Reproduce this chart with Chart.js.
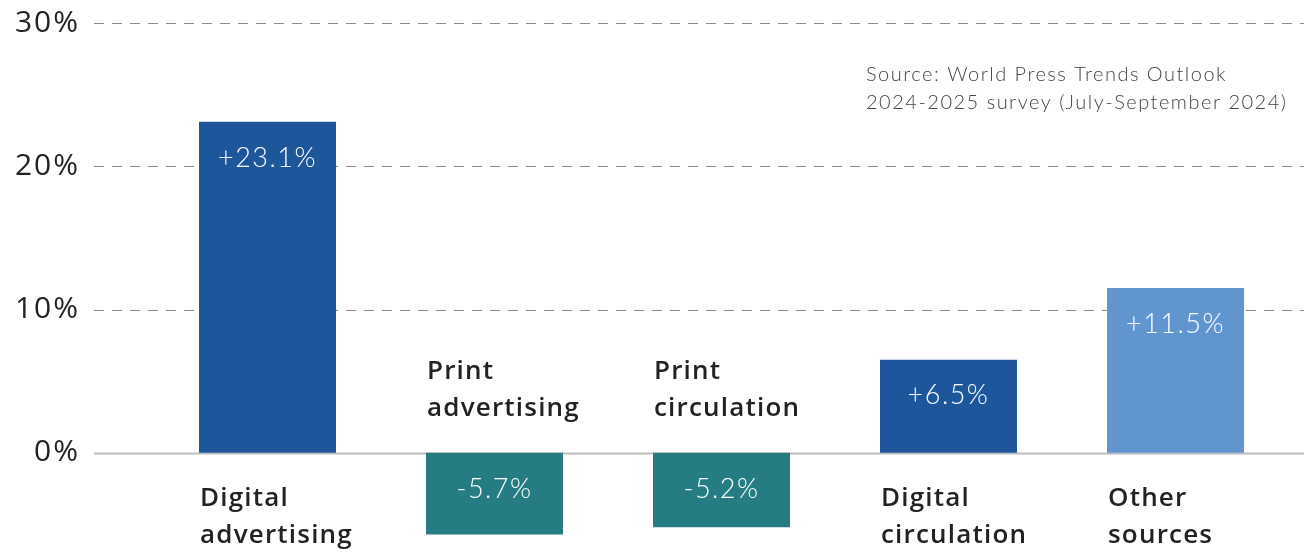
<!DOCTYPE html>
<html>
<head>
<meta charset="utf-8">
<script src="https://cdn.jsdelivr.net/npm/chart.js@4/dist/chart.umd.min.js"></script>
<style>
  html, body { margin: 0; padding: 0; background: #fff; }
  #wrap { width: 1304px; height: 552px; position: relative; }
</style>
</head>
<body>
<div id="wrap"><canvas id="revenueChart" width="1304" height="552"></canvas></div>
<script>
// Revenue growth by source
const categories = [
  ['Digital', 'advertising'],
  ['Print', 'advertising'],
  ['Print', 'circulation'],
  ['Digital', 'circulation'],
  ['Other', 'sources']
];
const growth = [23.1, -5.7, -5.2, 6.5, 11.5];
const valueLabels = ['+23.1%', '-5.7%', '-5.2%', '+6.5%', '+11.5%'];
const barColors = ['#1e569b', '#257d83', '#257d83', '#1e569b', '#6195cf'];
const tickValues = [0, 10, 20, 30];
const sourceLines = [
  'Source: World Press Trends Outlook',
  '2024-2025 survey (July-September 2024)'
];

const BOLD_FONT = '"Open Sans", Lato, sans-serif';
const LIGHT_FONT = 'Lato, "Open Sans", sans-serif';

// Wider tracking for the axis labels
const trackingPlugin = {
  id: 'tracking',
  beforeDraw(chart) { chart.ctx.letterSpacing = '2px'; },
  beforeDatasetsDraw(chart) { chart.ctx.letterSpacing = '0px'; }
};

// Gridlines span wider than the plot area, so draw them by hand
const gridPlugin = {
  id: 'wideGrid',
  beforeDatasetsDraw(chart) {
    const { ctx } = chart;
    const y = chart.scales.y;
    ctx.save();
    tickValues.forEach(v => {
      const py = Math.round(y.getPixelForValue(v)) + 0.5;
      ctx.beginPath();
      if (v === 0) {
        ctx.setLineDash([]);
        ctx.strokeStyle = '#bcbcbc';
        ctx.lineWidth = 2;
      } else {
        ctx.setLineDash([10, 8]);
        ctx.strokeStyle = '#8a8a8a';
        ctx.lineWidth = 1;
      }
      ctx.moveTo(94, py);
      ctx.lineTo(1304, py);
      ctx.stroke();
    });
    ctx.restore();
  }
};

// Value labels inside bars, category names beside the zero line, source note
const labelPlugin = {
  id: 'barLabels',
  afterDatasetsDraw(chart) {
    const { ctx } = chart;
    const y = chart.scales.y;
    const zero = y.getPixelForValue(0);
    const meta = chart.getDatasetMeta(0);
    ctx.save();
    meta.data.forEach((bar, i) => {
      const left = bar.x - bar.width / 2;
      const top = Math.min(bar.y, bar.base);

      ctx.fillStyle = '#ffffff';
      ctx.font = '300 27px ' + LIGHT_FONT;
      ctx.letterSpacing = '1.5px';
      ctx.textAlign = 'center';
      ctx.textBaseline = 'middle';
      ctx.fillText(valueLabels[i], bar.x, top + 36);

      ctx.fillStyle = '#222222';
      ctx.font = '600 26px ' + BOLD_FONT;
      ctx.letterSpacing = '1.2px';
      ctx.textAlign = 'left';
      const lines = categories[i];
      const firstY = growth[i] >= 0 ? zero + 46 : zero - 81;
      lines.forEach((t, k) => ctx.fillText(t, left + 1, firstY + k * 37));
    });

    ctx.fillStyle = '#444444';
    ctx.font = '300 20px ' + LIGHT_FONT;
    ctx.letterSpacing = '1.5px';
    ctx.textAlign = 'left';
    sourceLines.forEach((t, k) => ctx.fillText(t, 866, 75 + k * 28));
    ctx.restore();
  }
};

new Chart(document.getElementById('revenueChart'), {
  type: 'bar',
  data: {
    labels: categories.map(c => c.join(' ')),
    datasets: [{
      data: growth,
      backgroundColor: barColors,
      borderWidth: 0,
      categoryPercentage: 1,
      barPercentage: 0.6035
    }]
  },
  options: {
    responsive: false,
    animation: false,
    layout: { padding: { top: 23, right: 15, bottom: 6, left: 0 } },
    plugins: { legend: { display: false }, tooltip: { enabled: false } },
    scales: {
      x: { display: false },
      y: {
        min: -6.5,
        max: 30,
        afterBuildTicks: scale => { scale.ticks = tickValues.map(v => ({ value: v })); },
        afterFit: scale => {
          scale.width = 154;
          scale.paddingTop = 0;
          scale.paddingBottom = 0;
        },
        grid: { display: false },
        border: { display: false },
        ticks: {
          padding: 66,
          color: '#222222',
          font: { family: BOLD_FONT, size: 30, weight: '500' },
          callback: v => v + '%'
        }
      }
    }
  },
  plugins: [trackingPlugin, gridPlugin, labelPlugin]
});
</script>
</body>
</html>
